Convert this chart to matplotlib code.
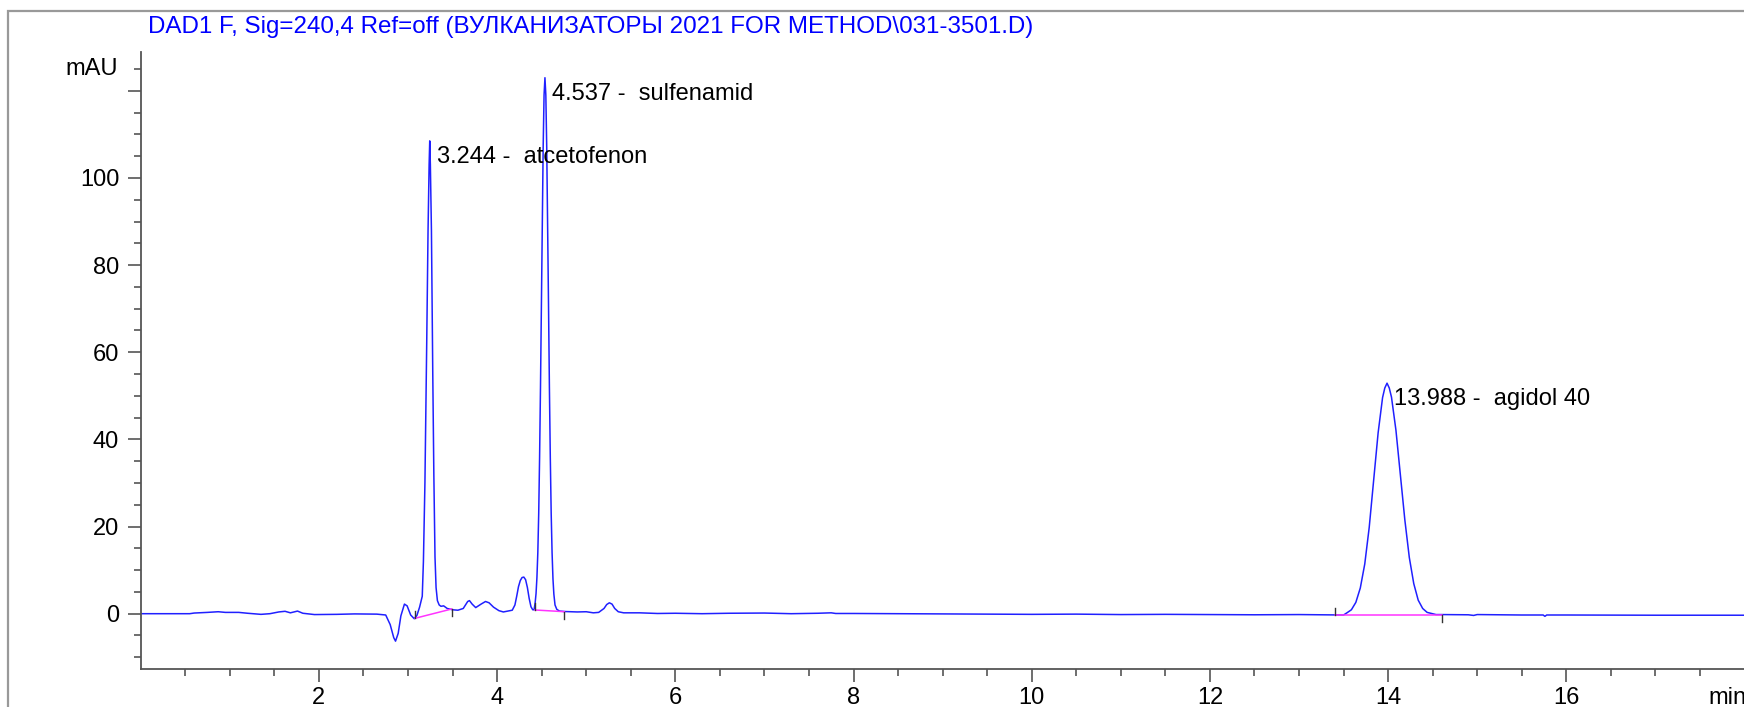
import matplotlib
matplotlib.use("Agg")
import matplotlib.pyplot as plt
from matplotlib.patches import Rectangle

plt.rcParams['font.family'] = ['Liberation Sans', 'DejaVu Sans']

# ---- data ----
time_min = [
    0.00, 0.55, 0.60, 0.75, 0.87, 0.95, 1.10, 1.20, 1.35, 1.45, 1.55, 1.62, 1.68, 1.76, 1.82, 1.95,
    2.20, 2.40, 2.65, 2.75, 2.80, 2.84, 2.86, 2.89, 2.92, 2.96, 2.99, 3.03, 3.07, 3.10, 3.13, 3.16,
    3.173, 3.19, 3.21, 3.225, 3.237, 3.244, 3.251, 3.263, 3.278, 3.29, 3.303, 3.315, 3.33, 3.35,
    3.37, 3.40, 3.44, 3.50, 3.56, 3.62, 3.67, 3.69, 3.72, 3.76, 3.82, 3.87, 3.91, 3.96, 4.02, 4.07,
    4.12, 4.17, 4.20, 4.22, 4.24, 4.26, 4.28, 4.30, 4.32, 4.34, 4.36, 4.38, 4.40, 4.415,
    4.427, 4.437, 4.447, 4.457, 4.467, 4.477, 4.487, 4.497, 4.507, 4.517, 4.527, 4.537, 4.547,
    4.557, 4.567, 4.577, 4.587, 4.597, 4.607, 4.617, 4.627, 4.637, 4.65, 4.67, 4.70, 4.76, 4.90,
    5.00, 5.08, 5.14, 5.20, 5.23, 5.26, 5.29, 5.32, 5.36, 5.42, 5.60, 5.80, 6.00, 6.30, 6.60, 7.00,
    7.30, 7.60, 7.75, 7.80, 8.00, 8.50, 9.00, 9.50, 10.00, 10.50, 11.00, 11.50, 12.00, 12.50, 13.00,
    13.30, 13.50, 13.538, 13.588, 13.638, 13.688, 13.738, 13.788, 13.838, 13.888, 13.938, 13.963,
    13.988, 14.013, 14.038, 14.088, 14.138, 14.188, 14.238, 14.288, 14.338, 14.388, 14.438, 14.538,
    14.60, 14.90, 14.96, 15.00, 15.50, 15.74, 15.76, 15.78, 16.00, 17.00, 18.00,
]
signal_mau = [
    0.00, 0.00, 0.15, 0.30, 0.45, 0.30, 0.30, 0.10, -0.15, 0.00, 0.40, 0.55, 0.20, 0.60, 0.10, -0.20,
    -0.15, -0.05, -0.10, -0.30, -2.50, -5.50, -6.30, -4.50, -0.50, 2.20, 1.80, -0.30, -1.15, -0.40, 1.50, 4.00,
    12.0, 30.0, 62.0, 88.0, 103.0, 108.5, 103.0, 88.0, 55.0, 32.0, 13.0, 6.0, 3.0, 2.0,
    1.7, 1.8, 1.2, 0.9, 0.8, 1.2, 2.8, 3.0, 2.2, 1.4, 2.2, 2.8, 2.5, 1.5, 0.7, 0.4,
    0.6, 0.8, 2.0, 4.0, 6.2, 7.6, 8.3, 8.4, 7.8, 6.0, 3.5, 1.6, 0.9, 0.9,
    2.5, 4.6, 8.3, 14.0, 23.0, 36.0, 52.0, 71.0, 90.0, 107.0, 119.0, 123.0, 119.0,
    107.0, 90.0, 71.0, 52.0, 36.0, 23.0, 14.0, 8.0, 4.5, 2.0, 1.0, 0.6, 0.5, 0.4,
    0.45, 0.20, 0.30, 1.20, 2.10, 2.50, 2.20, 1.20, 0.45, 0.20, 0.20, 0.05, 0.10, 0.00, 0.10, 0.15,
    0.00, 0.10, 0.20, 0.05, 0.05, 0.00, -0.05, -0.10, -0.15, -0.10, -0.20, -0.15, -0.20, -0.25, -0.20,
    -0.25, -0.30, 0.20, 0.90, 2.60, 5.90, 11.40, 19.80, 30.70, 41.50, 49.60, 51.80,
    52.90, 51.80, 49.70, 42.10, 31.80, 21.50, 12.90, 6.90, 3.10, 1.20, 0.30, -0.20,
    -0.20, -0.25, -0.40, -0.20, -0.30, -0.30, -0.60, -0.30, -0.30, -0.35, -0.35,
]

peak_rt = [3.244, 4.537, 13.988]
peak_height = [108.5, 123.0, 52.9]
peak_name = ["atcetofenon", "sulfenamid", "agidol 40"]

base_start_t = [3.08, 4.425, 13.40]
base_start_y = [-1.05, 0.85, -0.30]
base_end_t = [3.49, 4.755, 14.61]
base_end_y = [1.08, 0.46, -0.30]

title_text = "DAD1 F, Sig=240,4 Ref=off (ВУЛКАНИЗАТОРЫ 2021 FOR METHOD\\031-3501.D)"
y_major = [0, 20, 40, 60, 80, 100, 120]
y_major_labels = ["0", "20", "40", "60", "80", "100", ""]
x_major = [2, 4, 6, 8, 10, 12, 14, 16]
x_major_labels = ["2", "4", "6", "8", "10", "12", "14", "16"]

# ---- figure ----
W, H = 1744, 707
FS = 17
fig = plt.figure(figsize=(W / 100, H / 100), dpi=100)
ax = fig.add_axes([140.7 / W, 1 - 669.3 / H, (1744.5 - 140.7) / W, (669.3 - 52) / H])

ax.plot(time_min, signal_mau, color='#2020ff', lw=1.1, solid_joinstyle='round')

for ts, ys, te, ye in zip(base_start_t, base_start_y, base_end_t, base_end_y):
    ax.plot([ts, te], [ys, ye], color='#ff33ff', lw=1.1)
    ax.plot([ts, ts], [ys, ys + 1.6], color='#333333', lw=1.0)
    ax.plot([te, te], [ye, ye - 1.6], color='#333333', lw=1.0)

for rt, h, name in zip(peak_rt, peak_height, peak_name):
    ax.annotate(f"{rt:.3f} -  {name}", xy=(rt, h), xytext=(5.3, -11.5), textcoords='offset points',
                ha='left', va='center', fontsize=FS, color='black')

ax.set_xlim(0, 18)
ax.set_ylim(-12.76, 128.9)

for s in ['top', 'right']:
    ax.spines[s].set_visible(False)
for s in ['left', 'bottom']:
    ax.spines[s].set_color('#555555')
    ax.spines[s].set_linewidth(1.3)

ax.set_yticks(y_major)
ax.set_yticklabels(y_major_labels)
ax.set_yticks([v for v in range(-10, 129, 5) if v % 20 != 0], minor=True)
ax.set_xticks(x_major)
ax.set_xticklabels(x_major_labels)
ax.set_xticks([v * 0.5 for v in range(1, 36) if (v * 0.5) % 2 != 0], minor=True)

ax.tick_params(axis='both', which='major', length=9.5, width=1.2, color='#555555', labelsize=FS)
ax.tick_params(axis='both', which='minor', length=4.7, width=1.2, color='#555555')
ax.tick_params(axis='y', which='major', pad=6)
ax.tick_params(axis='x', which='major', pad=3.0)

ax.annotate("mAU", xy=(0, 125), xycoords=('axes fraction', 'data'), xytext=(-16.3, 0),
            textcoords='offset points', ha='right', va='center', fontsize=FS)
ax.annotate("min", xy=(17.59, 0), xycoords=('data', 'axes fraction'), xytext=(0, -25.0),
            textcoords='offset points', ha='left', va='baseline', fontsize=FS, annotation_clip=False)

fig.text(148 / W, 1 - 27 / H, title_text, color='#0000ff', fontsize=17.4, ha='left', va='center')

fig.patches.append(Rectangle((8 / W, -0.2), 2.0, 1.2 - 11 / H, transform=fig.transFigure,
                             fill=False, edgecolor='#999999', lw=1.6))

fig.savefig('out.png', dpi=100)
